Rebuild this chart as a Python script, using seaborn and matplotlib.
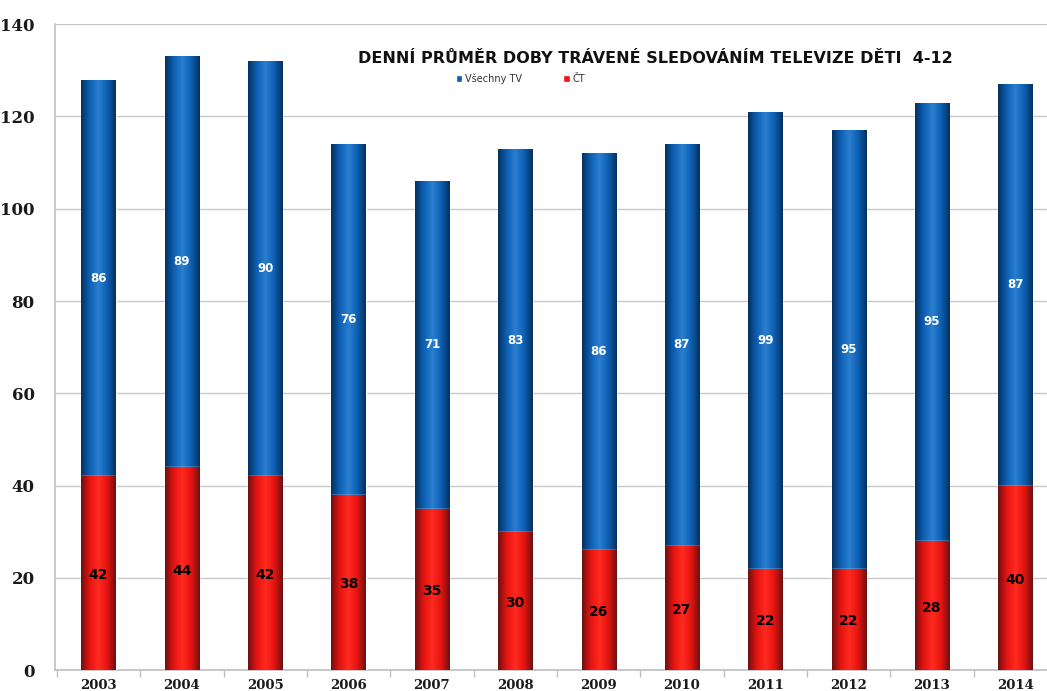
import numpy as np
import pandas as pd
import matplotlib
matplotlib.use("Agg")
import matplotlib.pyplot as plt
from matplotlib.colors import LinearSegmentedColormap
import seaborn as sns

# data
years = ["2003", "2004", "2005", "2006", "2007", "2008",
         "2009", "2010", "2011", "2012", "2013", "2014"]
ct = [42, 44, 42, 38, 35, 30, 26, 27, 22, 22, 28, 40]
other_tv = [86, 89, 90, 76, 71, 83, 86, 87, 99, 95, 95, 87]

df = pd.DataFrame({"rok": years, "ct": ct, "other": other_tv})
df["total"] = df["ct"] + df["other"]

BLUE = "#0b5cad"
RED = "#ee1510"

sns.set_theme(style="white")
plt.rcParams['font.family'] = ['DejaVu Sans']

fig = plt.figure(figsize=(10.47, 6.91), dpi=100)
ax = fig.add_axes([0.053, 0.030, 0.947, 0.935])

sns.barplot(data=df, x="rok", y="total", color=BLUE, width=0.41,
            saturation=1, ax=ax, label="Všechny TV", zorder=3)
sns.barplot(data=df, x="rok", y="ct", color=RED, width=0.41,
            saturation=1, ax=ax, label="ČT", zorder=3)

# cylinder-like shading on each bar
blue_cmap = LinearSegmentedColormap.from_list(
    "b", ["#05305e", "#0d5fb3", "#2a7fd0", "#0d5fb3", "#05305e"])
red_cmap = LinearSegmentedColormap.from_list(
    "r", ["#6a1010", "#e51410", "#ff2a20", "#e51410", "#6a1010"])
grad = np.linspace(0, 1, 256).reshape(1, -1)
n = len(years)
for i, p in enumerate(ax.patches):
    cmap = blue_cmap if i < n else red_cmap
    x0, w, h = p.get_x(), p.get_width(), p.get_height()
    im = ax.imshow(grad, cmap=cmap, aspect="auto",
                   extent=[x0, x0 + w, 0, h], zorder=p.get_zorder() + (0.1 if i < n else 0.3))
    im.set_clip_path(p)
    p.set_zorder(p.get_zorder() + (0.05 if i < n else 0.25))

# value labels
for i in range(n):
    ax.text(i, ct[i] + other_tv[i] / 2, str(other_tv[i]), ha="center", va="center",
            color="white", fontsize=8.5, fontweight="bold", zorder=10)
    ax.text(i, ct[i] / 2 - 0.4, str(ct[i]), ha="center", va="center",
            color="black", fontsize=10, fontweight="bold", zorder=10)

ax.set_xlim(-0.516, 11.38)
ax.set_ylim(0, 140)
ax.set_yticks(range(0, 141, 20))
ax.set_xlabel("")
ax.set_ylabel("")
ax.yaxis.grid(True, color="#c8c8c8", linewidth=1, zorder=0)
ax.set_axisbelow(True)
for s in ["top", "right"]:
    ax.spines[s].set_visible(False)
for s in ["left", "bottom"]:
    ax.spines[s].set_color("#bfbfbf")
    ax.spines[s].set_linewidth(1.2)

ax.tick_params(axis="y", length=5, color="#bfbfbf", labelsize=12, pad=10)
ax.tick_params(axis="x", length=0, labelsize=9.5, pad=6)
ax.set_xticks(np.arange(-0.5, 11.5, 1), minor=True)
ax.tick_params(axis="x", which="minor", length=5, color="#bfbfbf", direction="out", bottom=True)
for lab in ax.get_yticklabels() + ax.get_xticklabels():
    lab.set_fontweight("bold")
    lab.set_family("DejaVu Serif")
    lab.set_color("#1a1a1a")

ax.text(0.605, 0.947, "DENNÍ PRŮMĚR DOBY TRÁVENÉ SLEDOVÁNÍM TELEVIZE DĚTI  4-12",
        transform=ax.transAxes, ha="center", va="center",
        fontsize=11.5, fontweight="bold", color="#111111", zorder=12)

handles, labels = ax.get_legend_handles_labels()
leg = ax.legend(handles, labels, loc="center", bbox_to_anchor=(0.469, 0.916),
                ncol=2, frameon=False, fontsize=7, handlelength=0.7,
                handleheight=0.7, columnspacing=4.2, handletextpad=0.3)
for t in leg.get_texts():
    t.set_color("#333333")

fig.savefig("out.png", dpi=100)
